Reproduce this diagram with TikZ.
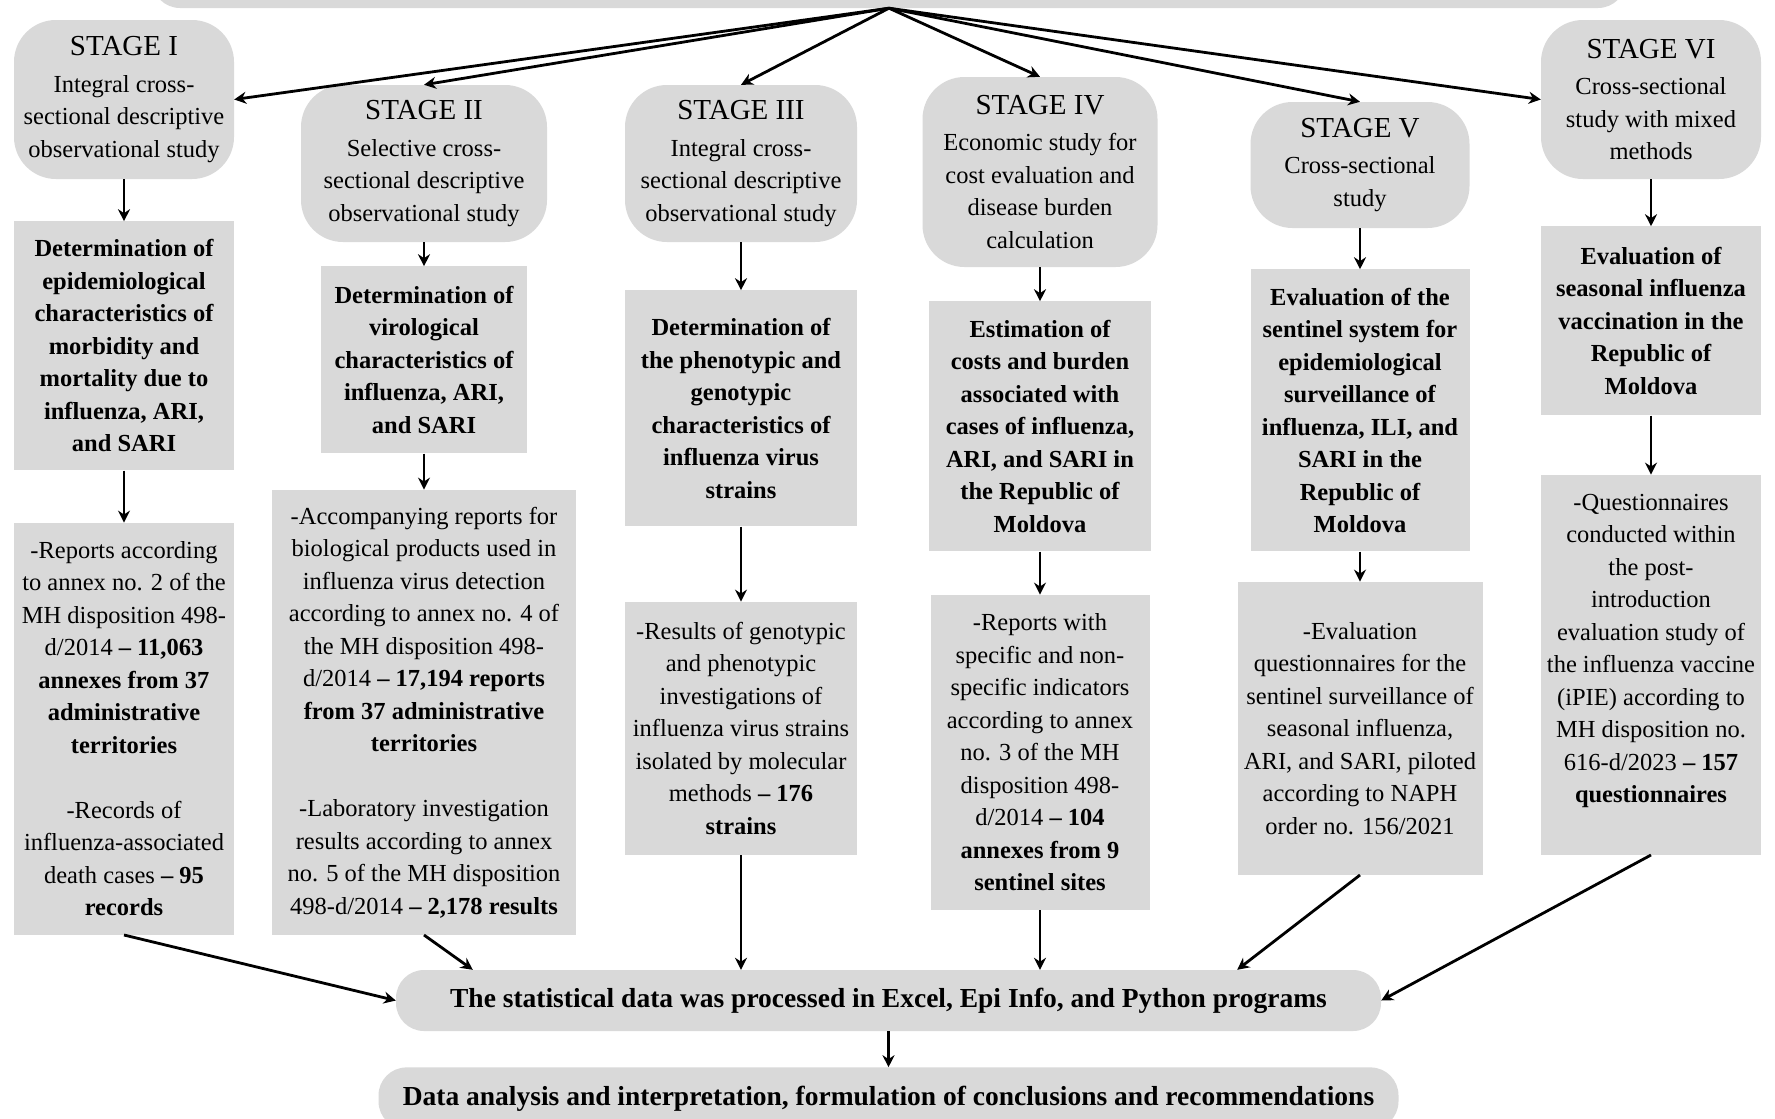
\documentclass[tikz,border=0pt]{standalone}
\usepackage{fontspec}
\setmainfont{Liberation Serif}
\usetikzlibrary{arrows.meta,positioning}
\definecolor{boxgray}{RGB}{217,217,217}
\newcommand{\stagefont}{\fontsize{29}{34}\selectfont}

\begin{document}
\begin{tikzpicture}[
  x=1pt, y=-1pt,
  base/.style={fill=boxgray, align=center, inner sep=2pt,
    font=\fontsize{24.5}{32.5}\selectfont},
  stagebox/.style={base, rounded corners=42pt},
  findbox/.style={base, font=\fontsize{24.5}{32.5}\selectfont\bfseries},
  databox/.style={base},
  procbox/.style={base, rounded corners=28pt,
    font=\fontsize{27.5}{32}\selectfont\bfseries},
  arr/.style={-{Stealth[length=12pt,width=12pt]}, line width=2.8pt}
]
\useasboundingbox (0,0) rectangle (1775,1119);
\fill[white] (0,0) rectangle (1775,1119);

\node[procbox, minimum width=1474pt, minimum height=60pt] (top) at (889,-22) {};

% stages
\node[stagebox, minimum width=220pt, minimum height=159pt] (s1) at (124,99.5)
  {{\stagefont STAGE I}\\[4pt] Integral cross-\\ sectional descriptive\\ observational study};
\node[stagebox, minimum width=246pt, minimum height=157pt] (s2) at (424,163.5)
  {{\stagefont STAGE II}\\[4pt] Selective cross-\\ sectional descriptive\\ observational study};
\node[stagebox, minimum width=232pt, minimum height=157pt] (s3) at (741,163.5)
  {{\stagefont STAGE III}\\[4pt] Integral cross-\\ sectional descriptive\\ observational study};
\node[stagebox, minimum width=235pt, minimum height=190pt] (s4) at (1040,172)
  {{\stagefont STAGE IV}\\[4pt] Economic study for\\ cost evaluation and\\ disease burden\\ calculation};
\node[stagebox, minimum width=219pt, minimum height=126pt] (s5) at (1360,165)
  {{\stagefont STAGE V}\\[4pt] Cross-sectional\\ study};
\node[stagebox, minimum width=220pt, minimum height=159pt] (s6) at (1651,99.5)
  {{\stagefont STAGE VI}\\[4pt] Cross-sectional\\ study with mixed\\ methods};

% aims
\node[findbox, minimum width=220pt, minimum height=249pt, below=42pt of s1] (r1)
  {Determination of\\ epidemiological\\ characteristics of\\ morbidity and\\ mortality due to\\ influenza, ARI,\\ and SARI};
\node[findbox, minimum width=206pt, minimum height=187pt, below=24pt of s2] (r2)
  {Determination of\\ virological\\ characteristics of\\ influenza, ARI,\\ and SARI};
\node[findbox, minimum width=232pt, minimum height=236pt, below=48pt of s3] (r3)
  {Determination of\\ the phenotypic and\\ genotypic\\ characteristics of\\ influenza virus\\ strains};
\node[findbox, minimum width=222pt, minimum height=250pt, below=34pt of s4] (r4)
  {Estimation of\\ costs and burden\\ associated with\\ cases of influenza,\\ ARI, and SARI in\\ the Republic of\\ Moldova};
\node[findbox, minimum width=219pt, minimum height=282pt, below=41pt of s5] (r5)
  {Evaluation of the\\ sentinel system for\\ epidemiological\\ surveillance of\\ influenza, ILI, and\\ SARI in the\\ Republic of\\ Moldova};
\node[findbox, minimum width=220pt, minimum height=189pt, below=47pt of s6] (r6)
  {Evaluation of\\ seasonal influenza\\ vaccination in the\\ Republic of\\ Moldova};

% data sources
\node[databox, minimum width=220pt, minimum height=412pt, below=52pt of r1] (d1)
  {-Reports according\\ to annex no. 2 of the\\ MH disposition 498-\\ d/2014 \textbf{– 11,063}\\
   \textbf{annexes from 37}\\ \textbf{administrative}\\ \textbf{territories}\\[32.5pt]
   -Records of\\ influenza-associated\\ death cases \textbf{– 95}\\ \textbf{records}};
\node[databox, minimum width=304pt, minimum height=445pt, below=36pt of r2] (d2)
  {-Accompanying reports for\\ biological products used in\\ influenza virus detection\\
   according to annex no. 4 of\\ the MH disposition 498-\\ d/2014 \textbf{– 17,194 reports}\\
   \textbf{from 37 administrative}\\ \textbf{territories}\\[32.5pt]
   -Laboratory investigation\\ results according to annex\\ no. 5 of the MH disposition\\
   498-d/2014 \textbf{– 2,178 results}};
\node[databox, minimum width=232pt, minimum height=253pt, below=75pt of r3] (d3)
  {-Results of genotypic\\ and phenotypic\\ investigations of\\ influenza virus strains\\
   isolated by molecular\\ methods \textbf{– 176}\\ \textbf{strains}};
\node[databox, minimum width=219pt, minimum height=315pt, below=43pt of r4] (d4)
  {-Reports with\\ specific and non-\\ specific indicators\\ according to annex\\ no. 3 of the MH\\
   disposition 498-\\ d/2014 \textbf{– 104}\\ \textbf{annexes from 9}\\ \textbf{sentinel sites}};
\node[databox, minimum width=245pt, minimum height=293pt, below=30pt of r5] (d5)
  {-Evaluation\\ questionnaires for the\\ sentinel surveillance of\\ seasonal influenza,\\
   ARI, and SARI, piloted\\ according to NAPH\\ order no. 156/2021};
\node[databox, minimum width=220pt, minimum height=380pt, below=59pt of r6] (d6)
  {-Questionnaires\\ conducted within\\ the post-\\ introduction\\ evaluation study of\\
   the influenza vaccine\\ (iPIE) according to\\ MH disposition no.\\ 616-d/2023 \textbf{– 157}\\
   \textbf{questionnaires}\\ \mbox{}};

% processing
\node[procbox, minimum width=985pt, minimum height=61pt] (proc) at (888.5,1000.5)
  {The statistical data was processed in Excel, Epi Info, and Python programs};
\node[procbox, minimum width=1020pt, minimum height=62pt, below=36pt of proc] (ana)
  {Data analysis and interpretation, formulation of conclusions and recommendations};

\draw[arr] (top.south) -- (s1.east);
\foreach \s in {s2,s3,s4,s5}
  \draw[arr] (top.south) -- (\s.north);
\draw[arr] (top.south) -- (s6.west);
\foreach \i in {1,...,6} {
  \draw[arr] (s\i) -- (r\i);
  \draw[arr] (r\i) -- (d\i);
}
\draw[arr] (d1.south) -- (proc.west);
\draw[arr] (d2.south) -- ([xshift=77pt]proc.north west);
\draw[arr] (d3) -- (d3 |- proc.north);
\draw[arr] (d4) -- (d4 |- proc.north);
\draw[arr] (d5.south) -- ([xshift=-144pt]proc.north east);
\draw[arr] (d6.south) -- (proc.east);
\draw[arr] (proc) -- (ana);
\end{tikzpicture}
\end{document}
